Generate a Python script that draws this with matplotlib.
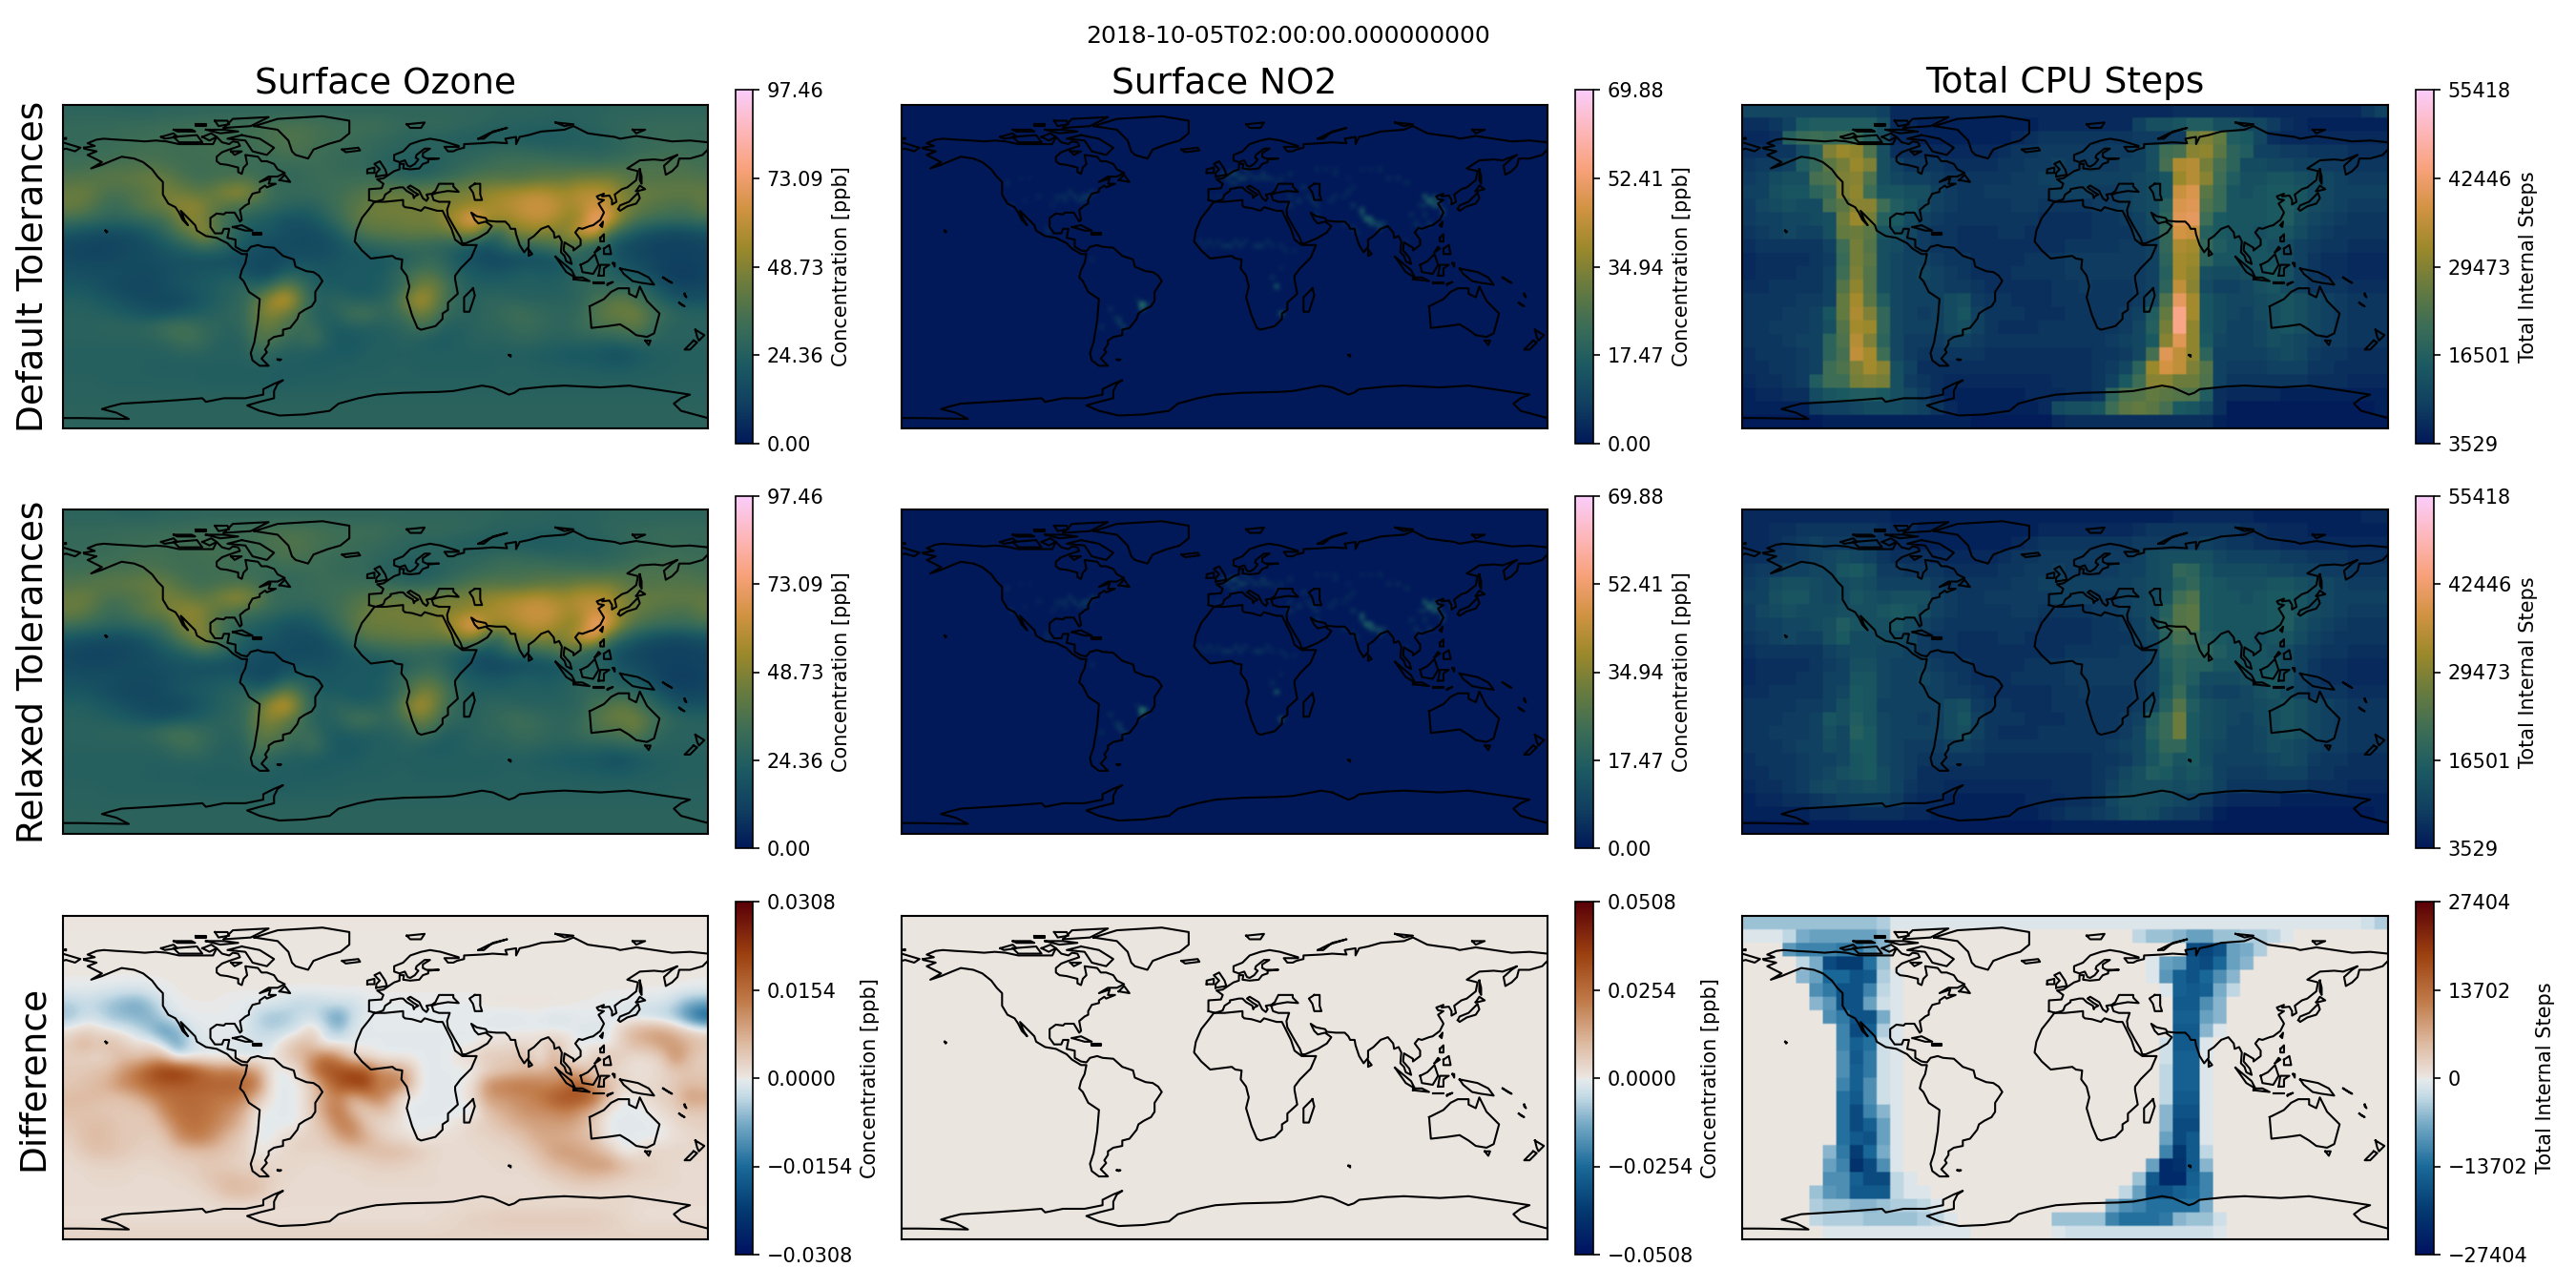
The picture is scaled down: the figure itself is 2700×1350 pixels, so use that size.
import numpy as np
import matplotlib
matplotlib.use("Agg")
import matplotlib.pyplot as plt
from matplotlib.colors import LinearSegmentedColormap

SUPTITLE = "2018-10-05T02:00:00.000000000"
COL_TITLES = ["Surface Ozone", "Surface NO2", "Total CPU Steps"]
ROW_TITLES = ["Default Tolerances", "Relaxed Tolerances", "Difference"]
UNIT_O3 = "Concentration [ppb]"
UNIT_CPU = "Total Internal Steps"

O3_TICKS = ["0.00", "24.36", "48.73", "73.09", "97.46"]
NO2_TICKS = ["0.00", "17.47", "34.94", "52.41", "69.88"]
CPU_TICKS = ["3529", "16501", "29473", "42446", "55418"]
O3D_TICKS = ["\u22120.0308", "\u22120.0154", "0.0000", "0.0154", "0.0308"]
NO2D_TICKS = ["\u22120.0508", "\u22120.0254", "0.0000", "0.0254", "0.0508"]
CPUD_TICKS = ["\u221227404", "\u221213702", "0", "13702", "27404"]
O3_RANGE = (0.0, 97.46)
NO2_RANGE = (0.0, 69.88)
CPU_RANGE = (3529, 55418)
O3D_MAX = 0.0308
NO2D_MAX = 0.0508
CPUD_MAX = 27404

# surface ozone, ppb, 7.5 degree cells, north to south, west to east
O3_PPB = [
[27,27,27,27,26,26,26,27,27,27,28,28,28,28,28,28,28,28,28,28,28,28,28,28,28,28,28,28,28,28,28,28,27,27,27,27,26,26,26,26,27,27,27,27,27,27,27,27],
[30,30,30,30,31,31,31,32,32,33,33,33,33,33,34,35,36,36,35,34,33,33,33,33,31,30,30,30,30,29,28,27,26,26,26,25,25,25,26,27,28,29,30,30,31,31,31,31],
[30,30,31,31,32,32,33,33,33,34,34,34,33,33,34,36,37,37,36,34,33,32,31,30,29,27,26,26,25,24,24,23,23,23,22,22,22,23,24,24,26,28,30,30,31,31,30,30],
[31,31,32,32,33,34,34,34,33,33,34,34,34,33,33,34,36,36,34,32,31,31,30,28,27,26,26,27,27,27,27,28,30,30,29,28,27,27,27,26,27,28,30,31,32,33,32,32],
[33,33,34,35,35,36,37,35,34,33,33,34,33,32,32,31,31,31,32,32,30,30,29,26,25,23,22,24,26,28,30,32,33,34,34,35,34,33,33,32,33,34,36,37,36,36,35,34],
[37,38,39,41,41,42,44,43,38,34,33,34,35,36,33,30,29,30,31,32,32,32,32,31,29,27,27,28,31,34,37,38,38,37,38,40,41,42,45,45,46,42,38,37,38,38,38,37],
[43,44,40,35,36,38,40,47,45,42,40,46,52,52,42,33,30,31,31,32,33,36,38,40,42,42,43,44,46,46,48,52,54,56,58,60,56,55,60,60,58,48,44,43,42,42,42,42],
[44,42,36,32,33,38,42,44,50,52,48,40,38,35,33,30,28,26,26,30,34,38,42,46,46,45,44,46,48,50,52,54,58,60,64,64,62,56,58,64,60,50,44,40,38,36,36,42],
[34,32,30,28,28,30,32,34,44,50,46,36,30,26,24,22,18,18,20,25,32,38,44,44,44,46,46,46,52,62,74,58,54,56,60,62,58,50,54,76,70,48,38,34,32,32,32,34],
[20,18,17,16,16,18,22,28,36,44,52,38,30,24,20,20,17,16,16,18,24,32,38,40,40,42,42,42,44,48,52,34,30,46,50,50,46,50,66,70,38,28,22,18,16,14,16,18],
[14,13,12,13,14,15,17,20,24,28,34,30,26,20,18,16,16,15,15,16,18,22,26,28,30,30,30,28,26,24,20,18,24,32,28,32,36,42,30,24,22,16,14,12,12,12,12,13],
[15,14,14,14,15,16,16,18,18,18,17,17,16,16,16,14,16,18,18,18,20,20,20,20,22,24,28,30,26,20,17,14,14,14,16,16,18,22,26,26,24,18,16,14,13,12,12,13],
[18,17,17,17,16,15,15,16,18,19,20,20,22,18,14,15,22,24,22,20,20,22,22,22,26,32,36,36,30,24,22,20,20,22,24,22,22,24,28,28,26,22,20,16,12,10,10,12],
[20,20,18,16,14,14,14,17,19,20,22,24,26,28,26,32,44,36,26,22,22,20,20,22,26,32,46,46,36,28,24,24,24,24,24,24,24,26,28,30,28,28,28,24,18,14,13,14],
[24,24,22,20,18,16,15,14,14,17,20,24,26,30,40,56,64,46,28,25,28,25,24,26,30,46,58,48,34,28,26,28,28,27,26,26,26,26,28,34,38,42,36,30,24,20,18,18],
[26,26,25,24,22,20,18,18,20,22,24,26,28,30,44,50,44,36,26,24,28,34,36,30,30,36,46,40,30,28,26,28,30,34,32,30,28,28,30,38,42,44,46,38,32,28,26,26],
[26,26,27,28,28,28,30,34,36,34,30,28,26,30,40,42,36,32,32,24,22,24,24,24,26,28,34,30,24,24,26,28,28,30,32,30,28,28,32,34,36,36,42,34,28,26,26,26],
[26,26,26,26,26,26,26,28,32,34,30,26,25,26,38,36,32,28,34,26,20,20,22,24,24,26,24,22,22,24,26,26,26,28,28,27,26,26,26,26,26,28,28,28,26,26,26,26],
[25,25,25,25,25,25,25,25,26,26,26,25,25,26,30,26,24,24,22,22,22,22,24,24,24,24,24,24,24,24,24,24,24,24,24,22,22,20,20,20,17,16,20,22,24,24,25,25],
[25,25,25,25,25,25,24,24,24,24,24,24,24,24,24,24,23,23,23,23,24,24,24,24,25,25,24,24,24,24,24,24,25,25,25,24,24,24,23,23,22,22,23,24,24,25,25,25],
[26,26,26,25,25,25,25,25,25,25,24,24,24,24,24,23,23,24,24,24,24,25,25,25,25,25,25,25,25,25,25,25,25,25,25,25,25,25,25,25,25,25,25,25,25,26,26,26],
[26,26,26,26,26,26,26,26,26,26,26,26,26,26,26,26,26,26,26,26,26,26,26,26,26,26,26,26,26,26,26,26,26,26,26,26,26,26,26,26,26,26,26,26,26,26,26,26],
[27,27,27,27,27,27,27,27,27,27,27,27,27,27,27,27,27,27,27,27,27,27,27,27,27,27,27,27,27,27,27,27,27,27,27,27,27,27,27,27,27,27,27,27,27,27,27,27],
[27,27,27,27,27,27,27,27,27,27,27,27,27,27,27,27,27,27,27,27,27,27,27,27,27,27,27,27,27,27,27,27,27,27,27,27,27,27,27,27,27,27,27,27,27,27,27,27],
]

# ozone difference, units of 1e-4 ppb
O3_DIFF = [
[3,3,3,3,3,3,3,3,3,3,3,3,3,3,3,3,3,3,3,3,3,3,3,3,3,3,3,3,3,3,3,3,3,3,3,3,3,3,3,3,3,3,3,3,3,3,3,3],
[2,2,2,2,2,2,2,2,2,2,2,2,2,2,2,2,2,2,2,2,2,2,2,2,2,2,2,2,2,2,2,2,2,2,2,2,2,2,2,2,2,2,2,2,2,2,2,2],
[2,2,2,2,2,2,2,2,2,2,2,2,2,2,2,2,2,2,2,2,2,2,2,2,2,2,2,2,2,2,2,2,2,2,2,2,2,2,2,2,2,2,2,2,2,2,2,2],
[2,2,2,2,2,2,2,2,2,2,2,2,2,2,2,2,2,2,2,2,2,2,2,2,2,2,2,2,2,2,2,2,2,2,2,2,2,2,2,2,2,2,2,2,2,2,2,2],
[1,1,1,1,1,1,1,1,1,1,1,1,1,1,1,1,1,1,1,1,1,1,1,1,1,1,1,1,1,1,1,1,1,1,1,1,1,1,1,1,1,1,1,1,1,1,1,1],
[-6,-6,-8,-12,-16,-16,-10,-3,1,1,1,1,1,1,1,1,1,1,1,1,1,1,1,1,1,1,1,1,1,1,1,1,1,1,1,1,1,1,1,1,1,1,1,1,1,1,-3,-5],
[-45,-30,-40,-55,-75,-85,-55,-15,-3,0,0,0,-3,-5,-5,-10,-20,-40,-35,-30,-20,-25,-10,-3,-3,-3,-3,-3,-3,-3,-3,3,5,5,5,5,5,3,0,0,-5,-5,-10,-15,-15,-40,-80,-90],
[-60,-30,-25,-55,-65,-70,-75,-35,-8,-3,-3,-3,-3,-5,-40,-60,-55,-30,-20,-60,-110,-30,-5,-3,-3,-3,-3,-3,-3,-3,-5,-5,-10,-10,-5,-5,-15,-10,-5,-5,-5,-15,-20,-30,-40,-60,-120,-180],
[10,30,20,5,-5,-30,-60,-110,-70,-15,-5,-5,-5,-10,-30,-40,-30,-15,30,-20,-60,-10,-5,-5,-5,-5,-5,-5,-5,-5,-5,-5,-5,-5,-5,-5,-5,-5,-10,-10,-15,30,70,90,90,60,30,15],
[40,70,45,60,35,10,15,-30,-100,-30,-10,-5,-8,-15,-20,-10,20,60,50,-15,0,-10,-5,-5,-5,-5,-5,-5,-5,-5,-5,10,10,20,15,20,50,15,-5,-5,-10,30,60,70,100,100,70,50],
[30,30,20,30,60,50,70,70,-15,-10,-10,-15,-15,-20,-10,-5,30,60,100,160,110,30,20,-5,-5,-5,-5,-5,-5,10,20,40,40,40,60,-10,80,5,-5,40,50,30,10,15,30,120,60,30],
[40,40,50,60,100,140,190,230,240,210,160,130,140,120,90,-5,-5,10,130,190,200,210,190,120,100,80,-5,-5,-5,-5,-5,20,40,50,60,70,80,90,60,30,25,15,10,10,20,40,40,40],
[40,50,60,80,120,140,170,180,180,170,170,170,170,170,130,-5,-5,-5,30,120,190,220,230,120,150,100,-5,-5,-5,-5,10,110,130,140,140,130,120,150,190,100,60,30,15,15,25,40,60,50],
[60,60,60,50,50,70,110,140,150,160,150,140,140,120,60,-5,-5,-5,40,100,120,60,100,140,60,-5,-5,-5,-5,-5,20,90,100,110,120,140,180,200,190,160,60,-5,-5,20,30,40,100,90],
[50,50,40,40,40,40,50,120,150,150,150,130,110,70,-5,-5,-5,-5,30,100,150,60,30,50,40,-5,-5,-5,-5,-5,-20,50,70,90,110,110,120,130,100,60,-5,-5,-5,-5,15,30,40,40],
[40,50,60,50,40,40,40,70,130,150,140,120,90,50,-5,-5,-5,-5,30,60,130,130,50,20,15,-5,-5,-5,-5,10,30,30,50,70,80,90,90,90,70,30,-5,-5,-5,-5,-5,15,25,30],
[30,50,60,50,40,40,30,40,100,130,130,90,50,30,-5,-5,15,30,30,40,80,110,80,40,20,15,-5,10,15,15,20,25,30,35,60,80,80,70,60,50,-5,-5,-5,-5,-5,10,15,20],
[20,40,50,50,40,30,30,30,40,50,50,50,40,30,-5,10,20,25,25,25,30,40,50,60,60,55,40,25,15,15,15,20,20,25,35,60,90,100,90,70,50,-5,-5,25,25,25,20,20],
[15,20,25,25,25,20,20,25,30,30,40,40,30,25,25,20,20,20,15,15,20,20,25,30,30,25,20,15,15,15,15,15,20,20,20,40,60,70,90,100,100,70,40,30,20,15,15,15],
[15,15,20,20,20,15,15,15,20,25,40,50,60,50,45,30,20,15,15,15,15,15,20,20,20,20,20,20,15,15,15,15,15,15,15,20,30,40,50,50,40,30,25,25,25,20,15,15],
[15,15,15,15,15,15,15,15,15,15,20,40,60,60,50,25,15,15,15,15,15,15,15,15,15,15,15,15,15,15,15,15,15,15,15,15,15,20,20,20,20,20,20,15,15,15,15,15],
[15,15,15,15,15,15,15,15,15,15,15,15,15,15,15,15,15,15,15,15,15,15,15,15,15,15,15,15,15,15,20,20,20,20,20,20,20,20,20,20,20,20,15,15,15,15,15,15],
[12,12,12,12,12,12,12,12,12,12,12,12,12,12,12,12,12,12,12,12,12,12,12,12,12,12,12,15,20,25,30,30,40,40,40,40,40,40,40,40,30,25,15,12,12,12,12,12],
[25,25,25,25,25,25,25,25,25,25,25,25,25,25,25,25,25,25,25,25,25,25,25,25,25,25,25,25,25,25,25,25,25,25,25,25,25,25,25,25,25,25,25,25,25,25,25,25],
]

# NO2 hot spots on a 2.5 degree grid (everywhere else the field reads zero)
NO2_LON = [-122,-118,-112,-105,-97,-90,-87,-84,-80,-77,-74,-95,-100,-99,-75,-92,-88,-82,-78,-94,-115,-110,
           -1,2,4,6,8,10,12,15,18,21,24,28,32,36,-4,-9,1,3,7,10,14,18,22,26,
           45,49,52,50,58,62,68,72,75,77,78,80,82,85,88,74,70,66,60,55,76,83,86,65,72,80,
           112,114,116,118,120,122,110,106,104,100,127,113,108,115,117,119,112,109,
           -15,-10,-5,0,5,8,12,18,24,30,34,38,31,-12,-7,-2,3,15,21,27,
           28,26,30,-47,-47,-44,-56,-60,-70,-65,-58,-75,-50,-62,
           36,40,44,50,85,90,95,100,60,68,35,55,75]
NO2_LAT = [47,34,37,40,33,36,41,40,39,38,41,39,22,19,5,38,38,37,36,36,50,48,
           52,50,51,51,50,48,50,50,50,52,48,46,49,52,40,39,48,47,46,53,52,48,50,50,
           38,36,33,29,36,39,41,33,32,29,26,26,24,22,23,19,22,25,52,54,30,25,24,38,44,55,
           38,37,35,33,31,30,30,25,29,14,37,23,22,40,36,36,33,35,
           14,13,13,12,13,12,13,11,13,12,9,8,0,12,12,12,12,12,12,12,
           -12,-6,-26,-22,-24,-20,-34,-31,-33,-24,-28,4,-18,-28,
           34,36,44,55,55,50,48,46,55,50,38,55,55]
NO2_PPB = [5,4,3,4,3,4,6,7,7,7,6,3,3,5,3,4,4,5,4,3,2,2,
           8,9,10,9,10,7,7,6,6,7,5,4,5,5,3,3,7,6,5,6,5,4,4,4,
           5,7,6,5,5,5,5,7,15,15,22,15,12,10,6,4,4,4,4,4,10,10,8,4,4,3,
           16,24,14,8,9,7,6,6,5,3,5,7,4,8,8,8,6,5,
           4,5,4,6,6,6,5,7,5,4,4,3,3,4,4,5,5,4,4,4,
           16,6,16,30,14,9,9,9,5,6,5,4,4,4,
           7,7,6,4,5,5,5,5,3,3,5,3,3]

# relaxed tolerance CPU steps, thousands, 7.5 degree cells
CPU_RELAXED = [
[6,6,6,6,6,6,6,6,6,6,6,5,5,5,5,5,5,5,5,5,5,5,5,5,5,5,5,5,5,5,5,5,6,6,6,6,6,6,5,5,5,5,5,5,5,5,6,6],
[6,6,7,7,8,8,8,8,8,8,7,6,6,5,5,5,5,5,5,5,5,5,6,6,6,6,6,6,6,7,8,8,8,8,8,8,8,7,7,6,6,6,5,5,5,5,5,5],
[6,6,7,8,9,10,9,9,8,8,7,6,6,5,5,5,5,5,5,5,6,7,8,8,8,8,8,8,8,9,9,9,9,9,10,9,8,8,7,7,6,6,6,6,6,6,6,6],
[7,7,8,8,9,10,11,12,11,10,8,7,7,7,6,6,6,6,6,7,8,8,9,9,9,9,9,9,9,10,12,13,13,13,13,11,10,10,10,10,9,9,8,8,8,7,7,7],
[8,9,9,10,10,11,11,14,15,13,9,9,8,8,8,7,7,7,7,8,8,9,9,10,9,9,9,9,10,10,12,13,19,18,14,12,12,12,12,11,11,10,10,9,9,8,8,8],
[9,10,12,13,13,12,11,12,13,12,10,10,10,10,9,8,8,8,8,8,9,9,10,10,10,10,10,10,10,11,12,13,17,19,15,14,13,13,13,14,14,13,12,11,10,9,9,9],
[10,10,13,14,14,12,11,12,14,13,12,13,13,13,10,9,8,8,9,9,9,9,9,10,10,10,9,9,10,11,12,14,21,23,15,14,14,13,14,15,15,14,12,11,10,10,10,10],
[9,11,12,13,12,12,12,13,13,13,14,15,14,12,10,9,8,8,8,8,9,9,8,8,8,8,9,9,10,11,12,17,24,25,15,14,14,14,14,15,16,14,12,11,10,9,9,9],
[9,10,10,11,11,12,13,16,14,13,13,14,12,10,9,8,8,8,8,8,8,8,7,7,7,7,8,8,9,10,12,18,24,25,15,14,14,14,14,15,16,13,11,10,9,8,8,8],
[8,9,10,11,10,10,13,15,12,12,12,12,11,9,8,8,7,7,7,8,8,7,7,7,7,7,8,8,8,10,11,17,22,21,16,15,14,14,13,14,14,12,10,9,8,8,8,8],
[7,8,8,8,8,8,10,11,12,12,11,11,10,9,8,8,7,7,7,7,7,7,7,7,8,8,8,8,9,9,10,17,19,18,18,16,14,14,14,13,12,10,9,8,8,7,7,7],
[6,7,7,7,7,8,9,10,13,13,11,10,10,10,9,8,8,7,7,7,7,8,8,8,9,9,9,9,9,9,10,15,18,17,17,14,14,14,14,14,12,10,8,7,7,6,6,6],
[6,7,7,7,8,8,10,10,14,14,11,10,10,11,10,9,8,7,7,7,8,8,8,8,9,9,9,9,9,9,10,14,18,16,12,12,12,13,14,15,13,10,8,7,7,6,6,6],
[7,7,8,8,8,8,10,11,15,14,11,10,10,10,10,9,9,8,7,7,7,7,7,8,8,9,8,8,8,9,10,15,20,14,11,10,10,11,13,14,12,10,8,8,8,7,7,7],
[8,8,8,8,9,9,10,13,15,14,10,10,10,10,10,12,13,9,8,8,7,7,7,8,8,8,8,8,8,9,11,17,24,16,13,12,11,11,12,13,14,13,11,10,9,8,8,8],
[8,8,8,9,9,10,14,13,16,14,11,10,10,9,10,12,14,10,8,8,8,7,7,7,8,8,8,8,9,10,16,20,27,15,13,12,11,10,12,13,14,13,11,10,9,8,8,8],
[8,8,9,9,9,10,13,11,17,15,11,10,10,10,10,12,13,10,8,7,7,7,8,8,8,8,8,8,9,11,17,20,27,15,13,12,10,10,11,13,14,13,11,10,9,8,8,8],
[8,8,8,9,10,10,12,11,15,15,11,10,9,9,9,10,10,9,8,8,8,8,8,8,8,8,8,9,10,11,15,19,19,15,12,11,10,10,11,13,12,11,10,9,9,8,8,8],
[7,8,8,8,9,10,10,11,14,15,11,10,9,8,8,8,8,8,7,7,7,7,7,7,7,7,8,8,9,11,14,17,14,15,12,10,10,10,10,11,12,11,9,8,8,7,7,7],
[7,7,8,8,9,10,11,13,14,15,12,10,9,7,7,7,7,7,7,7,7,7,7,7,7,7,8,9,11,13,16,15,13,14,13,10,9,9,9,10,10,10,8,8,7,7,7,7],
[6,7,7,8,9,11,12,11,12,13,12,10,8,7,7,6,6,6,6,6,6,6,6,7,7,7,8,10,12,13,13,13,12,13,12,10,8,8,8,8,8,8,7,7,7,6,6,6],
[5,6,6,7,7,8,9,10,10,10,10,9,7,6,6,5,5,5,5,5,5,6,6,6,7,7,8,11,13,13,13,12,11,10,9,7,6,6,6,6,5,5,5,5,5,5,5,5],
[5,5,5,5,5,6,6,6,7,7,7,7,6,6,5,5,5,5,5,5,5,5,6,7,8,8,9,10,12,13,12,10,9,9,7,5,4,4,4,4,4,4,4,4,4,4,4,5],
[4,4,4,4,4,4,4,4,4,4,4,4,4,4,4,4,4,4,4,4,4,4,4,5,5,5,5,5,5,5,5,5,5,5,5,4,4,4,4,4,4,4,4,4,4,4,4,4],
]

# relaxed minus default CPU steps, thousands
CPU_DIFF = [
[-5,-5,-5,-5,-5,-5,-5,-5,-5,-5,-4,-1,-1,-1,-1,-1,-1,-1,-1,-1,-1,-1,-1,-1,-1,-1,-1,-1,-1,-1,-1,-1,-1,-1,-1,-1,-1,-1,-1,-1,-1,-1,-1,-1,-1,-1,-2,-4],
[-1,-1,-1,-3,-7,-8,-8,-8,-8,-8,-6,0,0,0,0,0,0,0,0,0,0,0,0,0,0,0,0,0,0,-3,-5,-5,-6,-8,-8,-5,-5,-4,-4,-3,-1,0,0,0,0,0,0,0],
[0,0,0,-9,-11,-11,-11,-12,-12,-9,-6,0,0,0,0,0,0,0,0,0,0,0,0,0,0,0,0,0,0,0,0,0,0,-18,-19,-17,-8,-7,-4,0,0,0,0,0,0,0,0,0],
[0,0,0,0,-3,-7,-18,-20,-20,-13,-5,0,0,0,0,0,0,0,0,0,0,0,0,0,0,0,0,0,0,0,-1,-8,-9,-17,-18,-14,-8,-6,0,0,0,0,0,0,0,0,0,0],
[0,0,0,0,-6,-8,-14,-14,-17,-16,-4,-1,0,0,0,0,0,0,0,0,0,0,0,0,0,0,0,0,0,0,-1,-9,-15,-17,-14,-10,-6,0,0,0,0,0,0,0,0,0,0,0],
[0,0,0,0,0,-10,-12,-17,-17,-11,-3,-1,0,0,0,0,0,0,0,0,0,0,0,0,0,0,0,0,0,0,0,-1,-15,-16,-15,-7,-3,0,0,0,0,0,0,0,0,0,0,0],
[0,0,0,0,0,-6,-9,-17,-17,-8,-2,-1,0,0,0,0,0,0,0,0,0,0,0,0,0,0,0,0,0,0,0,0,-16,-16,-10,-6,0,0,0,0,0,0,0,0,0,0,0,0],
[0,0,0,0,0,0,-10,-12,-17,-17,-7,-1,0,0,0,0,0,0,0,0,0,0,0,0,0,0,0,0,0,0,0,0,-15,-15,-8,-6,0,0,0,0,0,0,0,0,0,0,0,0],
[0,0,0,0,0,0,0,-11,-18,-15,-4,-1,0,0,0,0,0,0,0,0,0,0,0,0,0,0,0,0,0,0,0,0,-16,-16,-6,-1,0,0,0,0,0,0,0,0,0,0,0,0],
[0,0,0,0,0,0,0,-11,-15,-13,-2,-1,0,0,0,0,0,0,0,0,0,0,0,0,0,0,0,0,0,0,0,-2,-16,-16,-1,0,0,0,0,0,0,0,0,0,0,0,0,0],
[0,0,0,0,0,0,0,-10,-16,-12,-2,-1,0,0,0,0,0,0,0,0,0,0,0,0,0,0,0,0,0,0,0,-2,-15,-15,-1,0,0,0,0,0,0,0,0,0,0,0,0,0],
[0,0,0,0,0,0,0,-10,-15,-12,-2,-1,0,0,0,0,0,0,0,0,0,0,0,0,0,0,0,0,0,0,0,-3,-15,-15,-1,0,0,0,0,0,0,0,0,0,0,0,0,0],
[0,0,0,0,0,0,0,-11,-15,-10,-2,-1,0,0,0,0,0,0,0,0,0,0,0,0,0,0,0,0,0,0,0,-3,-15,-15,-1,0,0,0,0,0,0,0,0,0,0,0,0,0],
[0,0,0,0,0,0,0,-13,-16,-10,-2,-1,0,0,0,0,0,0,0,0,0,0,0,0,0,0,0,0,0,0,0,-3,-16,-16,-1,0,0,0,0,0,0,0,0,0,0,0,0,0],
[0,0,0,0,0,0,0,-13,-18,-11,-6,-1,0,0,0,0,0,0,0,0,0,0,0,0,0,0,0,0,0,0,0,-6,-17,-17,-1,0,0,0,0,0,0,0,0,0,0,0,0,0],
[0,0,0,0,0,0,0,-13,-18,-15,-8,-1,0,0,0,0,0,0,0,0,0,0,0,0,0,0,0,0,0,0,0,-6,-18,-18,-1,0,0,0,0,0,0,0,0,0,0,0,0,0],
[0,0,0,0,0,0,0,-13,-16,-17,-8,-1,0,0,0,0,0,0,0,0,0,0,0,0,0,0,0,0,0,0,0,-8,-18,-16,-1,0,0,0,0,0,0,0,0,0,0,0,0,0],
[0,0,0,0,0,0,-6,-12,-20,-14,-7,-1,0,0,0,0,0,0,0,0,0,0,0,0,0,0,0,0,0,0,0,-11,-21,-16,-3,0,0,0,0,0,0,0,0,0,0,0,0,0],
[0,0,0,0,0,0,-8,-11,-22,-18,-10,-1,0,0,0,0,0,0,0,0,0,0,0,0,0,0,0,0,0,0,-8,-23,-22,-16,-6,0,0,0,0,0,0,0,0,0,0,0,0,0],
[0,0,0,0,0,0,-10,-10,-15,-18,-18,-3,-1,0,0,0,0,0,0,0,0,0,0,0,0,0,0,0,0,-5,-16,-23,-23,-15,-11,0,0,0,0,0,0,0,0,0,0,0,0,0],
[0,0,0,0,0,-5,-9,-10,-16,-16,-16,-3,-1,-1,0,0,0,0,0,0,0,0,0,0,0,0,0,0,-3,-8,-17,-17,-15,-14,-11,0,0,0,0,0,0,0,0,0,0,0,0,0],
[0,0,0,0,0,-4,-5,-5,-6,-6,-5,-4,-4,-3,-1,0,0,0,0,0,0,0,0,0,0,0,0,-7,-10,-11,-13,-13,-13,-13,-7,0,0,0,0,0,0,0,0,0,0,0,0,0],
[0,0,0,0,0,-3,-4,-4,-4,-5,-5,-5,-5,-4,-3,-1,0,0,0,0,0,0,0,-5,-5,-5,-5,-11,-13,-13,-13,-12,-6,-5,-5,-2,0,0,0,0,0,0,0,0,0,0,0,0],
[0,0,0,0,0,0,-1,-1,-1,-1,-1,-1,-1,-1,-1,-1,-1,0,0,0,0,0,0,-1,-2,-2,-2,-2,-2,-2,-2,-2,-2,-2,-2,-1,0,0,0,0,0,0,0,0,0,0,0,0],
]

# coastlines as lon, lat outlines
COAST_AMERICAS = [(-168,66),(-162,67),(-166,68.5),(-161,70.5),(-157,71),(-150,70.5),(-141,70),(-134,69.5),(-128,70),(-122,69.5),(-115,68),(-108,68),(-102,68),(-96,68),(-94,72),(-91,69),(-87,68),(-85,69.5),(-82,69),(-81,67),(-87,65),(-91,63.5),(-94,61),(-94,58.5),(-92,57),(-88,56.5),(-82,55),(-82,52.5),(-80,51.5),(-79,55),(-77,57),(-78,62),(-71,61),(-69,58.5),(-66,58.5),(-62,57),(-60,54),(-56,52),(-60,50),(-65,50),(-70,47),(-64,49),(-65,46),(-61,46),(-66,44),(-67,45),(-70,43),(-70,41.5),(-74,40.5),(-76,37),(-76,35),(-78,34),(-81,31.5),(-80,26),(-81,25),(-82.5,27.5),(-84,30),(-89,30),(-90,29),(-94,29.5),(-97.5,27),(-97.5,22),(-95,18.5),(-91,18.5),(-90,21),(-87,21),(-88,16),(-83.5,15),(-83.5,11),(-80,9),(-77,8.5),(-75,11),(-71,12),(-68,11),(-62,10.5),(-57,6),(-51,4),(-50,0),(-44,-2.5),(-40,-3),(-37,-5),(-35,-8),(-37,-11),(-39,-14),(-39,-19),(-41,-22),(-45,-24),(-48,-26),(-49,-29),(-53,-34),(-57,-35),(-57,-38),(-62,-39),(-65,-41),(-65,-43),(-67,-46),(-66,-47.5),(-69,-51),(-65,-55),(-70,-55),(-74,-52),(-75,-48),(-73,-42),(-72,-36),(-71,-30),(-70,-18),(-76,-14),(-79,-8),(-81,-6),(-80,-2),(-78,2),(-77,7),(-80,7),(-85,10),(-88,13),(-94,16),(-100,17),(-105,20),(-106,23),(-109,26),(-112,29),(-114,31),(-112,26),(-110,23),(-113,26),(-115,30),(-117,33),(-121,35),(-124,40),(-124,47),(-127,50),(-130,54),(-135,58),(-140,60),(-147,61),(-152,59),(-158,56.5),(-164,54.5),(-158,58),(-162,60),(-166,62),(-161,64),(-168,65.5),(-168,66)]
COAST_EURASIA = [(-9,37),(-9,43),(-2,43.5),(-1,46),(-4.5,48.5),(-1,49),(2,51),(5,53),(8,54),(8,57),(10.5,57),(10,54.5),(14,54),(19,54.5),(21,57),(24,58),(24,59.5),(30,60),(23,60),(21,61),(21,63),(25,65.5),(22,65.5),(17.5,62),(17,60.5),(18.5,59.5),(16.5,57),(14,55.5),(12.5,56),(11,59),(8,58),(5,59),(5,62),(10,64),(14,68),(20,70),(25,71),(31,70),(41,67),(41,66.5),(33,66.5),(35,64),(38,64),(40,65),(44,66),(44,68),(54,68.5),(60,69),(68,68.5),(67,71),(73,72),(73,68),(75,72),(80,73),(87,75),(100,76),(105,78),(113,74),(120,73),(128,72),(131,71),(140,72.5),(150,71),(160,69.5),(170,70),(180,69)]
COAST_CHUKOTKA = [(-180,69),(-175,67.5),(-170,66),(-173,64),(-178,65.5),(-180,65)]
COAST_PACIFIC_ASIA = [(180,65),(177,62),(170,60),(164,60),(163,56),(160,53),(156.5,51),(155.5,56),(160,60),(163,62),(155,59),(150,59.5),(142,59),(135,54.5),(141,53),(140,48),(135,44),(132,43),(128,40),(129,36),(126.5,34.5),(126.5,37),(125,39.5),(121,39),(122,40.5),(118,39),(119,37.5),(122,37),(119,35),(121.5,31),(122,30),(120,26),(116,23),(114,22.5),(110,21),(108,21.5),(106,19),(109,15),(109,12),(105,9),(105,10.5),(100,13.5),(99.5,9),(103,5),(104,1.5),(101,3),(100,6),(98,8),(98.5,14),(97,17),(94.5,16),(94,19),(91,22.5),(87,21),(83,17),(80,15),(80,11),(77.5,8),(75,12),(73,18),(72.5,21),(70,21),(69,23),(67,25),(62,25),(57,25.5),(56,27),(51,28),(48,30),(50,26),(51,25),(52,24),(56,25),(59.5,22.5),(57,19),(52,16),(45,13),(43,13),(42,16),(39,21),(35,28),(34.5,31.5),(36,36),(33,36),(30,36),(27,37),(26,40),(29,41),(35,42),(41,41.5),(38,44.5),(38,46),(33,46),(30,46),(28,42),(26,40.5),(23,40),(24,38),(23,36.5),(21,38),(19.5,41),(19,42),(14,45),(12.5,44),(16,41.5),(18.5,40),(16.5,39),(16,38),(15.5,40),(12,42),(10,44),(8,44),(3,43),(3,42),(0,40),(-1,37.5),(-2,37),(-5.5,36),(-9,37)]
COAST_AFRICA = [(-6,36),(0,36),(10,37),(10,34),(11,33),(15,32.5),(20,31),(22,33),(29,31),(32,31),(32.5,30),(34,27),(37,21),(39,15),(43,12),(51,12),(48,5),(42,-1),(39,-5),(39,-7),(40.5,-15),(35,-20),(35,-24),(32,-26),(32,-29),(28,-33),(20,-35),(18,-34),(15,-27),(12,-17),(13.5,-11),(12,-5),(9,-1),(9.5,4),(6,4.5),(4,6),(-4,5),(-8,4.5),(-13,9),(-17,14),(-16,20),(-13,27),(-9,32),(-6,36)]
COAST_ANTARCTICA = [(-180,-84),(-170,-84),(-143,-84.5),(-150,-81),(-158,-79),(-153,-77.5),(-147,-76),(-130,-75),(-115,-74),(-102,-73),(-100,-75),(-90,-73),(-78,-73),(-68,-71),(-68,-68),(-62,-65),(-57,-63),(-60,-65),(-62,-69),(-62,-73),(-70,-75),(-77,-77),(-70,-80),(-59,-82.6),(-45,-82),(-31,-80),(-26,-76),(-15,-73),(-5,-71),(10,-70),(30,-69.5),(38,-69),(54,-66),(60,-67),(69,-71),(72,-70),(75,-68),(90,-66.5),(100,-66),(120,-67),(136,-66),(150,-68),(170,-71),(165,-73),(161,-76),(165,-80),(180,-84)]
COAST_ISLANDS = [
[(-73,78),(-60,82),(-35,83.5),(-20,81),(-20,74),(-25,70),(-32,68),(-40,65),(-43,60),(-50,62),(-52,64),(-54,70),(-60,76),(-73,78)],
[(-80,73),(-70,71),(-62,66),(-66,62),(-74,64),(-78,70),(-88,71),(-80,73)],
[(-118,72),(-105,73),(-102,69),(-115,69),(-118,72)],
[(-90,77),(-85,82),(-65,83),(-75,78),(-90,77)],
[(-125,72),(-118,74),(-116,72),(-123,71),(-125,72)],
[(-100,76),(-90,76),(-82,75),(-92,74),(-100,76)],
[(-118,76),(-108,76),(-106,75),(-116,75),(-118,76)],
[(-102,72),(-97,74),(-94,72),(-98,70),(-102,72)],
[(-95,81),(-88,81),(-87,79),(-93,78),(-95,81)],
[(-106,79),(-100,79),(-100,78),(-106,78),(-106,79)],
[(-86,64),(-80,64),(-84,62),(-86,64)],
[(-59,48),(-53,47),(-56,51),(-59,48)],
[(-24,65),(-15,66),(-14,64.5),(-22,63.5),(-24,65)],
[(-85,22),(-80,23),(-74,20),(-78,20),(-85,22)],
[(-74,19),(-69,19),(-69,18),(-74,18),(-74,19)],
[(-156,20),(-155,19.5),(-155.5,19),(-156,20)],
[(-5,50),(1,51),(0,54),(-3,58.5),(-6,57),(-3,54),(-5,52),(-5,50)],
[(-10,52),(-6,52),(-6,55),(-10,54),(-10,52)],
[(12,79),(22,80),(20,77),(14,77),(12,79)],
[(52,71),(58,74),(68,77),(60,75),(55,71),(52,71)],
[(95,80),(105,79),(100,78),(95,80)],
[(138,76),(145,76),(140,74),(138,76)],
[(-180,71),(-178,71.5),(-178,70.8),(-180,71)],
[(142,54),(143,50),(143,46),(142,48),(142,54)],
[(130,32),(131,34),(136,36),(140,40),(141,41),(142,38),(140,35),(135,33.5),(131,31),(130,32)],
[(140,42),(142,45),(145,43),(141,42),(140,42)],
[(120,23),(121.5,25),(121,22),(120,23)],
[(120,16),(122,18),(122,14),(120,14),(120,16)],
[(122,10),(125,12),(126,7),(122,7),(122,10)],
[(117,8),(119,11),(120,10),(117,8)],
[(109,1),(113,3),(117,7),(119,1),(116,-4),(110,-3),(109,1)],
[(95,5.5),(104,-2),(106,-6),(101,-3),(95,5.5)],
[(105,-7),(114,-8),(110,-6),(105,-6),(105,-7)],
[(116,-8.5),(122,-8.5),(122,-9),(116,-9),(116,-8.5)],
[(124,-10),(127,-8.5),(124,-9.5),(124,-10)],
[(127,2),(128,0),(128,2),(127,2)],
[(119,-5),(120,1),(125,1),(122,-1),(122,-5),(119,-5)],
[(131,-1),(141,-3),(147,-6),(150,-10),(143,-9),(138,-8),(133,-4),(131,-1)],
[(155,-6),(160,-9),(158,-8),(155,-6)],
[(167,-15),(168,-17),(167,-16),(167,-15)],
[(164,-20),(167,-22),(165,-21),(164,-20)],
[(80,9.5),(82,7),(80,6),(80,9.5)],
[(49,-12),(50,-16),(47,-25),(44,-25),(44,-17),(49,-12)],
[(114,-22),(122,-18),(126,-14),(130,-12),(136,-12),(136,-15),(140,-17),(142,-11),(146,-19),(153,-26),(150,-37),(146,-39),(140,-38),(136,-35),(131,-32),(124,-33),(115,-34),(114,-22)],
[(145,-41),(148,-41),(147,-43.5),(145,-41)],
[(173,-35),(178,-38),(175,-41),(174,-39),(173,-35)],
[(172,-41),(174,-42),(170,-46),(167,-46),(172,-41)],
[(69,-49),(70,-49),(70,-50),(69,-49)],
[(-60,-51.5),(-58,-51.5),(-59,-52),(-60,-51.5)],
[(50,46),(53,46),(53,40),(54,37),(50,37),(49,41),(47,44),(50,46)],
]

BATLOW_COLORS = ["#011959","#103F60","#1C5A62","#3C6D56","#687B3E","#9D892B","#D29343","#F8A17B","#FDB7BC","#FACCFA"]
VIK_STOPS = [(0.0,"#001261"),(0.12,"#03386F"),(0.25,"#1A6A9A"),(0.37,"#76AAC6"),(0.45,"#C6DBE6"),(0.497,"#E6EAEC"),
             (0.5,"#ECE6E2"),(0.6,"#DDB9A0"),(0.72,"#C07A48"),(0.85,"#9C4110"),(1.0,"#590008")]
BATLOW = LinearSegmentedColormap.from_list("batlowish", BATLOW_COLORS, N=256)
VIK = LinearSegmentedColormap.from_list("vikish", VIK_STOPS, N=256)

W, H = 2700, 1350
COL_X = [(65.5, 742), (945, 1622), (1826, 2503)]
BAR_X = [(771, 789), (1651, 1670), (2532, 2551)]
ROW_Y = [(109.5, 449.5), (534, 874), (960, 1299)]
BAR_Y = [(94, 465), (520, 889), (945, 1315)]
EXTENT = [-180, 180, -90, 90]


def table(rows, n=48):
    return np.array([(list(r) + [r[-1]] * n)[:n] for r in rows], dtype=float)


def box(xr, yr):
    return [xr[0] / W, 1 - yr[1] / H, (xr[1] - xr[0]) / W, (yr[1] - yr[0]) / H]


o3 = table(O3_PPB)
o3d = table(O3_DIFF) * 1e-4
cpu_rel = table(CPU_RELAXED) * 1000
cpu_dif = table(CPU_DIFF) * 1000
cpu_def = cpu_rel - cpu_dif
no2 = np.zeros((72, 144))
for lon, lat, v in zip(NO2_LON, NO2_LAT, NO2_PPB):
    no2[int((90 - lat) // 2.5), int((lon + 180) // 2.5)] = v
no2d = np.zeros((72, 144))

block = lambda a: np.repeat(np.repeat(a, 8, axis=0), 8, axis=1)

PANELS = [
    [(o3, BATLOW, O3_RANGE, O3_TICKS, UNIT_O3, "bicubic"), (no2, BATLOW, NO2_RANGE, NO2_TICKS, UNIT_O3, "bicubic"), (block(cpu_def), BATLOW, CPU_RANGE, CPU_TICKS, UNIT_CPU, "bilinear")],
    [(o3, BATLOW, O3_RANGE, O3_TICKS, UNIT_O3, "bicubic"), (no2, BATLOW, NO2_RANGE, NO2_TICKS, UNIT_O3, "bicubic"), (block(cpu_rel), BATLOW, CPU_RANGE, CPU_TICKS, UNIT_CPU, "bilinear")],
    [(o3d, VIK, (-O3D_MAX, O3D_MAX), O3D_TICKS, UNIT_O3, "bicubic"), (no2d, VIK, (-NO2D_MAX, NO2D_MAX), NO2D_TICKS, UNIT_O3, "bilinear"), (block(cpu_dif), VIK, (-CPUD_MAX, CPUD_MAX), CPUD_TICKS, UNIT_CPU, "bilinear")],
]

fig = plt.figure(figsize=(18, 9), dpi=150)
coasts = [COAST_AMERICAS, COAST_EURASIA, COAST_CHUKOTKA, COAST_PACIFIC_ASIA, COAST_AFRICA, COAST_ANTARCTICA] + COAST_ISLANDS
for r, row in enumerate(PANELS):
    for c, (field, cmap, rng, labels, unit, interp) in enumerate(row):
        ax = fig.add_axes(box(COL_X[c], ROW_Y[r]))
        im = ax.imshow(field, cmap=cmap, vmin=rng[0], vmax=rng[1], extent=EXTENT, origin="upper",
                       aspect="auto", interpolation=interp)
        for line in coasts:
            xy = np.array(line)
            ax.plot(xy[:, 0], xy[:, 1], color="k", lw=1.0, solid_joinstyle="round")
        ax.set_xlim(-180, 180)
        ax.set_ylim(-90, 90)
        ax.set_xticks([])
        ax.set_yticks([])
        for s in ax.spines.values():
            s.set_linewidth(1.0)
        if r == 0:
            ax.set_title(COL_TITLES[c], fontsize=18, pad=6)
        if c == 0:
            ax.set_ylabel(ROW_TITLES[r], fontsize=18, labelpad=6)
        cax = fig.add_axes(box(BAR_X[c], BAR_Y[r]))
        ticks = np.linspace(rng[0], rng[1], len(labels))
        cb = fig.colorbar(im, cax=cax, ticks=ticks)
        cb.ax.set_yticklabels(labels)
        cb.set_label(unit)
fig.text(1350 / W, 1 - 38 / H, SUPTITLE, ha="center", va="center", fontsize=12)
fig.savefig("out.png", dpi=150)
